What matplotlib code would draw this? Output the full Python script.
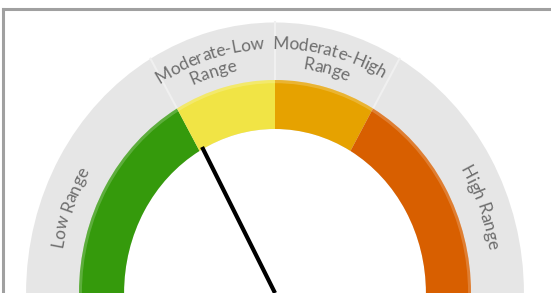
import numpy as np
import matplotlib.pyplot as plt
from matplotlib.patches import Wedge
from matplotlib.textpath import TextToPath
from matplotlib.font_manager import FontProperties

# gauge bands (share of the dial) and their colours
bands = [40, 20, 20, 40]
band_colors = ['#359a0c', '#f1e445', '#e6a200', '#d85f00']
band_labels = [['Low Range'], ['Moderate-Low', 'Range'], ['Moderate-High', 'Range'], ['High Range']]
label_angles = [159, 107, 76, 21]
needle_value = 41

W, H = 551, 293
fig = plt.figure(figsize=(W / 100, H / 100), dpi=100)
ax = fig.add_axes([0, 0, 1, 1])
ax.set_axis_off()

# pixel mapping: centre at (275, 293), unit radius = 196 px wide, 213 px tall
cx, cy, sx, sy = 275, 293, 196, 213
ax.set_xlim(-cx / sx, (W - cx) / sx)
ax.set_ylim((cy - H) / sy, cy / sy)

total = sum(bands)
edges = 180 - np.cumsum([0] + bands) / total * 180

for i in range(len(bands)):
    a1, a0 = edges[i + 1], edges[i]
    ax.add_patch(Wedge((0, 0), 1.27, a1, a0, width=0.5, facecolor='#e6e6e6',
                       edgecolor='none', zorder=1))
    ax.add_patch(Wedge((0, 0), 1.0, a1, a0, width=0.23, facecolor=band_colors[i],
                       edgecolor='none', zorder=2))
    # soft light rim on outer edge of coloured band
    ax.add_patch(Wedge((0, 0), 1.0, a1, a0, width=0.015, facecolor='white',
                       alpha=0.2, edgecolor='none', zorder=3))

# thin light separators in the grey label ring
for a in edges[1:-1]:
    t = np.radians(a)
    ax.plot([1.0 * np.cos(t), 1.27 * np.cos(t)], [1.0 * np.sin(t), 1.27 * np.sin(t)],
            color='#f0f0f0', lw=1.5, zorder=1.5)

# needle
na = np.radians(180 - needle_value / total * 180)
ax.plot([0, 0.78 * np.cos(na)], [0, 0.78 * np.sin(na)], color='black', lw=3,
        solid_capstyle='butt', zorder=5)

# curved labels along the grey ring
fp = FontProperties(family='Lato', size=12.5)
ttp = TextToPath()


def char_w(s):
    w, h, d = ttp.get_text_width_height_descent(s, fp, ismath=False)
    return w * 100 / 72


def curved_text(s, theta_c, r):
    A, B = r * sx, r * sy
    total_w = char_w(s)

    def step(theta, w):
        t = np.radians(theta)
        ds = np.hypot(A * np.sin(t), B * np.cos(t))
        return theta - np.degrees(w / ds)

    # find start angle so the text is centred on theta_c
    theta = theta_c
    n = 40
    for _ in range(n):
        theta = step(theta, -total_w / 2 / n)
    start = theta
    for k in range(len(s)):
        w_prev = char_w(s[:k]) if k else 0.0
        w_next = char_w(s[:k + 1])
        mid = (w_prev + w_next) / 2
        theta = start
        m = 10
        for _ in range(m):
            theta = step(theta, mid / m)
        t = np.radians(theta)
        rot = np.degrees(np.arctan2(-B * np.cos(t), A * np.sin(t)))
        ax.text(r * np.cos(t), r * np.sin(t), s[k], fontproperties=fp, color='#6e6e6e',
                rotation=rot, rotation_mode='anchor', ha='center', va='center', zorder=6)


for lines, ang in zip(band_labels, label_angles):
    if len(lines) == 1:
        curved_text(lines[0], ang, 1.13)
    else:
        curved_text(lines[0], ang, 1.17)
        curved_text(lines[1], ang, 1.085)

# frame (top and left edges visible)
ax.plot([3 / sx - cx / sx, 3 / sx - cx / sx], [(cy - H) / sy, (cy - 9) / sy],
        color='#a0a0a0', lw=2.2, zorder=7)
ax.plot([3 / sx - cx / sx, (W - cx) / sx], [(cy - 9) / sy, (cy - 9) / sy],
        color='#a0a0a0', lw=2.2, zorder=7)

fig.savefig('out.png', dpi=100)
